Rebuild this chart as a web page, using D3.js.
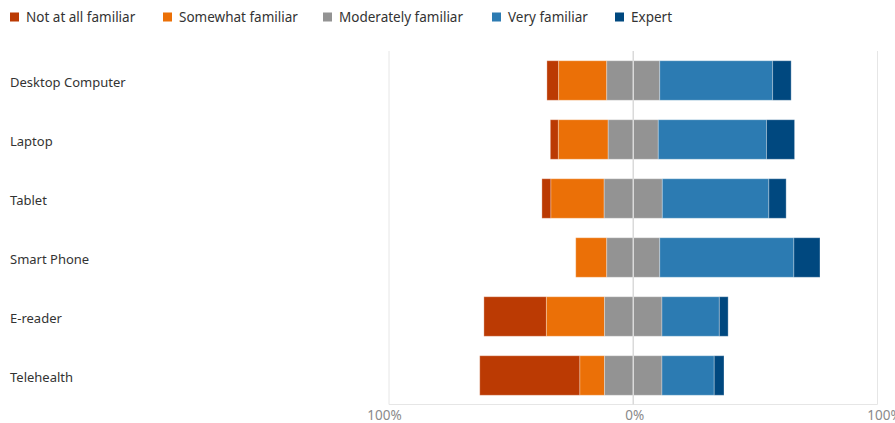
<!DOCTYPE html>
<html>
<head>
<meta charset="utf-8">
<script src="https://cdn.jsdelivr.net/npm/d3@7"></script>
<style>
  body { margin: 0; background: #fff; }
  svg { display: block; font-family: "Segoe UI", "Noto Sans", sans-serif; }
</style>
</head>
<body>
<svg id="chart"></svg>
<script>
const width = 895;
const height = 423;

// categories (top to bottom)
const devices = ["Desktop Computer", "Laptop", "Tablet", "Smart Phone", "E-reader", "Telehealth"];
const levels = ["Not at all familiar", "Somewhat familiar", "Moderately familiar", "Very familiar", "Expert"];
const levelColors = ["#bb3a03", "#eb7007", "#939393", "#2c7bb2", "#00487f"];

// percent of respondents per level, one value per device
const notAtAll   = [4.8, 3.3, 3.7, 0, 25.6, 41.0];
const somewhat   = [19.7, 20.4, 21.8, 12.7, 23.8, 10.1];
const moderately = [21.7, 20.5, 23.8, 21.7, 23.5, 23.5];
const very       = [46.2, 44.3, 43.6, 54.9, 23.5, 21.4];
const expert     = [7.6, 11.5, 7.1, 10.7, 3.6, 4.0];

const tickValues = [-100, 0, 100];
const tickLabels = ["100%", "0%", "100%"];

const svg = d3.select("#chart").attr("width", width).attr("height", height);

const x = d3.scaleLinear().domain([-100, 100]).range([389, 877.5]);
const y = d3.scaleBand().domain(devices).range([51, 405]).paddingInner(0.33).paddingOuter(0.165);

// diverging segments: not at all + somewhat + half of moderately go left of zero
const segs = [];
devices.forEach((d, i) => {
    const vals = [notAtAll[i], somewhat[i], moderately[i], very[i], expert[i]];
    let start = -(vals[0] + vals[1] + vals[2] / 2);
    vals.forEach((v, k) => {
        segs.push({device: d, level: k, x0: start, x1: start + v});
        start += v;
    });
});

// grid / frame
const g = svg.append("g");
g.selectAll("line.grid")
    .data([-100, 100])
    .enter().append("line")
    .attr("x1", d => x(d)).attr("x2", d => x(d))
    .attr("y1", 51).attr("y2", 404.5)
    .attr("stroke", "#e6e6e6");
g.append("line")
    .attr("x1", x(-100)).attr("x2", x(100))
    .attr("y1", 404.5).attr("y2", 404.5)
    .attr("stroke", "#e6e6e6");

// bars
svg.append("g").selectAll("rect")
    .data(segs.filter(s => s.x1 > s.x0))
    .enter().append("rect")
    .attr("x", s => x(s.x0))
    .attr("width", s => x(s.x1) - x(s.x0))
    .attr("y", s => y(s.device))
    .attr("height", y.bandwidth())
    .attr("fill", s => levelColors[s.level])
    .attr("stroke", "#fff")
    .attr("stroke-opacity", 0.3)
    .attr("stroke-width", 1);

// zero line on top
svg.append("line")
    .attr("x1", x(0)).attr("x2", x(0))
    .attr("y1", 51).attr("y2", 404.5)
    .attr("stroke", "#dadada")
    .attr("stroke-width", 1.5);

// category labels
svg.append("g").selectAll("text")
    .data(devices)
    .enter().append("text")
    .attr("x", 10)
    .attr("y", d => y(d) + y.bandwidth() / 2 + 6)
    .attr("fill", "#333")
    .style("font-size", "13px")
    .text(d => d);

// x tick labels
const tickNudge = {"-100": -4.5, "0": 1.5, "100": 7};
svg.append("g").selectAll("text")
    .data(tickValues)
    .enter().append("text")
    .attr("x", d => x(d) + tickNudge[d])
    .attr("y", 420)
    .attr("text-anchor", "middle")
    .attr("fill", "#8a8a8a")
    .style("font-size", "13.5px")
    .text((d, i) => tickLabels[i]);

// legend
const legendX = [10, 163, 323, 492, 615];
const legend = svg.append("g").selectAll("g")
    .data(levels)
    .enter().append("g")
    .attr("transform", (d, i) => `translate(${legendX[i]},0)`);
legend.append("rect")
    .attr("x", 0).attr("y", 12.5)
    .attr("width", 9).attr("height", 9)
    .attr("fill", (d, i) => levelColors[i]);
legend.append("text")
    .attr("x", 16).attr("y", 22)
    .attr("fill", "#333")
    .style("font-size", "13.5px")
    .text(d => d);
</script>
</body>
</html>
